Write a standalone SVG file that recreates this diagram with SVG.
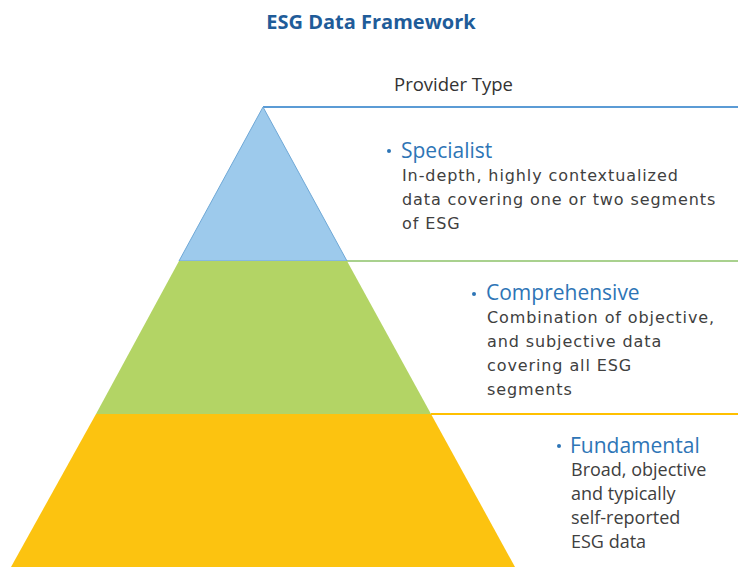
<svg xmlns="http://www.w3.org/2000/svg" width="738" height="567" viewBox="0 0 738 567">
  <style>
    .title { font-family: "Open Sans", "Liberation Sans", sans-serif; font-weight: 700; font-size: 20px; fill: #1f5c99; }
    .head { font-family: "Open Sans", "Liberation Sans", sans-serif; font-size: 18.5px; fill: #333333; }
    .tier { font-family: "Open Sans", "Liberation Sans", sans-serif; font-size: 21px; fill: #2e75b6; }
    .desc { font-family: "DejaVu Sans", "Open Sans", sans-serif; font-size: 16px; letter-spacing: 0.9px; fill: #404040; }
    .desc-n { font-family: "Open Sans", "Liberation Sans", sans-serif; font-size: 18px; fill: #404040; }
    .bullet { fill: #2e75b6; }
  </style>
  <rect width="738" height="567" fill="#ffffff"/>

  <text class="title" x="371" y="29" text-anchor="middle">ESG Data Framework</text>
  <text class="head" x="394" y="91">Provider Type</text>

  <!-- separator rules -->
  <g id="connectors">
    <line x1="263" y1="107" x2="738" y2="107" stroke="#5b9bd5" stroke-width="2"/>
    <line x1="347" y1="261" x2="738" y2="261" stroke="#a9d18e" stroke-width="2"/>
    <line x1="431" y1="414" x2="738" y2="414" stroke="#ffc000" stroke-width="2"/>
  </g>

  <g id="specialist">
    <polygon points="263,107 347,261 179,261" fill="#9dcaec" stroke="#6fa8d6" stroke-width="1"/>
    <circle class="bullet" cx="389" cy="151" r="2"/>
    <text class="tier" x="401" y="158">Specialist</text>
    <text class="desc" x="402" y="181">In-depth, highly contextualized</text>
    <text class="desc" x="402" y="205">data covering one or two segments</text>
    <text class="desc" x="402" y="229">of ESG</text>
  </g>

  <g id="comprehensive">
    <polygon points="179,261 347,261 431,414 96,414" fill="#b3d465"/>
    <circle class="bullet" cx="474" cy="294" r="2"/>
    <text class="tier" x="486" y="300">Comprehensive</text>
    <text class="desc" x="487" y="323">Combination of objective,</text>
    <text class="desc" x="487" y="347">and subjective data</text>
    <text class="desc" x="487" y="371">covering all ESG</text>
    <text class="desc" x="487" y="395">segments</text>
  </g>

  <g id="fundamental">
    <polygon points="96,414 431,414 515,567 11,567" fill="#fcc310"/>
    <circle class="bullet" cx="559" cy="446" r="2"/>
    <text class="tier" x="570" y="453">Fundamental</text>
    <text class="desc-n" x="571" y="476">Broad, objective</text>
    <text class="desc-n" x="571" y="500">and typically</text>
    <text class="desc-n" x="571" y="524">self-reported</text>
    <text class="desc-n" x="571" y="548">ESG data</text>
  </g>
</svg>
